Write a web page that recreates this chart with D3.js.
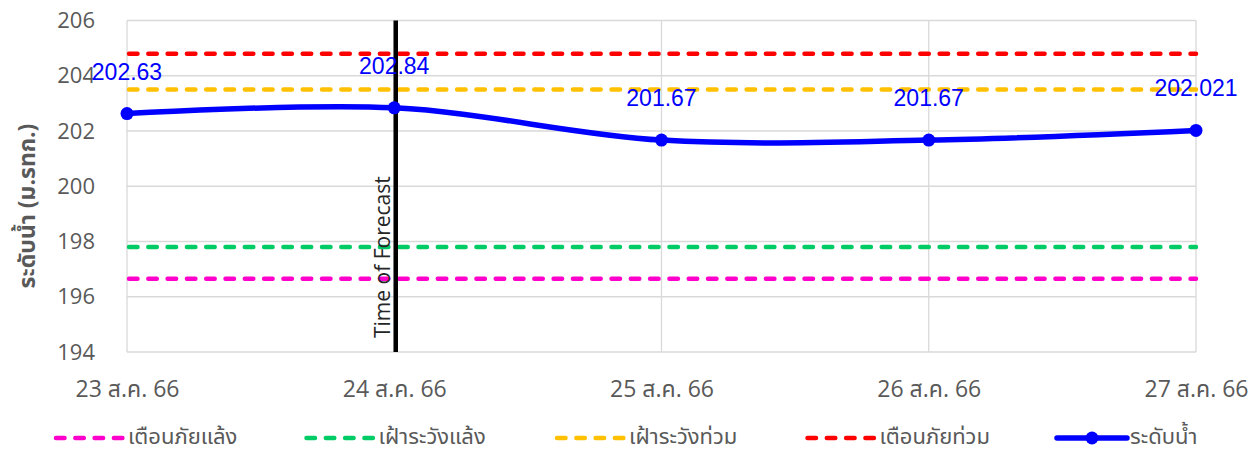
<!DOCTYPE html>
<html>
<head>
<meta charset="utf-8">
<script src="https://cdn.jsdelivr.net/npm/d3@7"></script>
<style>
  body { margin: 0; background: #fff; }
  svg { display: block; }
  text { font-family: "Open Sans", "Noto Sans Thai", "Noto Sans", sans-serif; }
</style>
</head>
<body>
<div id="chart"></div>
<script>
// ---- data ----
const dates = ['23 ส.ค. 66', '24 ส.ค. 66', '25 ส.ค. 66', '26 ส.ค. 66', '27 ส.ค. 66']
const waterLevel = [202.63, 202.84, 201.67, 201.67, 202.021]
const waterLabels = ['202.63', '202.84', '201.67', '201.67', '202.021']
const thresholdNames = ['เตือนภัยแล้ง', 'เฝ้าระวังแล้ง', 'เฝ้าระวังท่วม', 'เตือนภัยท่วม']
const thresholdValues = [196.65, 197.8, 203.5, 204.8]
const thresholdColors = ['#ff00cc', '#00cc66', '#ffc000', '#ff0000']
const yTicks = [194, 196, 198, 200, 202, 204, 206]
const forecastIndex = 1
const forecastLabel = 'Time of Forecast'
const levelName = 'ระดับน้ำ'
const yTitle = 'ระดับน้ำ (ม.รทก.)'

const width = 1258
const height = 450
const grey = '#595959'
const blue = '#0000ff'

const svg = d3.select('#chart').append('svg')
    .attr('width', width)
    .attr('height', height)

const x = d3.scalePoint().domain(dates).range([127, 1196])
const y = d3.scaleLinear().domain([194, 206]).range([352, 20.5])

// grid
svg.append('g')
    .selectAll('line')
    .data(yTicks)
    .enter()
    .append('line')
    .attr('x1', x.range()[0])
    .attr('x2', x.range()[1])
    .attr('y1', d => y(d))
    .attr('y2', d => y(d))
    .attr('stroke', '#d9d9d9')
    .attr('stroke-width', 1.3)

svg.append('g')
    .selectAll('line')
    .data(dates)
    .enter()
    .append('line')
    .attr('x1', d => x(d))
    .attr('x2', d => x(d))
    .attr('y1', y(206))
    .attr('y2', y(194))
    .attr('stroke', '#d9d9d9')
    .attr('stroke-width', 1.3)

// y axis
const yAxis = svg.append('g')
    .attr('transform', `translate(${x.range()[0]},0)`)
    .call(d3.axisLeft(y).tickValues(yTicks).tickSize(0).tickPadding(32))
yAxis.select('.domain').remove()
yAxis.selectAll('text')
    .attr('fill', grey)
    .style('font-size', '22px')

svg.append('text')
    .attr('transform', 'translate(35,206) rotate(-90)')
    .attr('text-anchor', 'middle')
    .attr('fill', grey)
    .style('font-size', '23px')
    .style('font-weight', 'bold')
    .text(yTitle)

// x axis
const xAxis = svg.append('g')
    .attr('transform', `translate(0,${y(194)})`)
    .call(d3.axisBottom(x).tickSize(0).tickPadding(29))
xAxis.select('.domain').remove()
xAxis.selectAll('text')
    .attr('fill', grey)
    .style('font-size', '23px')

// threshold lines
const dash = '8.5 10.8'
svg.append('g')
    .selectAll('line')
    .data(thresholdValues)
    .enter()
    .append('line')
    .attr('x1', x.range()[0] + 2)
    .attr('x2', x.range()[1])
    .attr('y1', d => y(d))
    .attr('y2', d => y(d))
    .attr('stroke', (d, i) => thresholdColors[i])
    .attr('stroke-width', 4.5)
    .attr('stroke-linecap', 'round')
    .attr('stroke-dasharray', dash)

// forecast marker
const fx = x(dates[forecastIndex]) + 1.5
svg.append('line')
    .attr('x1', fx)
    .attr('x2', fx)
    .attr('y1', y(206))
    .attr('y2', y(194))
    .attr('stroke', '#000')
    .attr('stroke-width', 4.5)

svg.append('text')
    .attr('transform', `translate(${fx - 6},${y(194) - 14}) rotate(-90)`)
    .attr('fill', '#262626')
    .style('font-size', '21px')
    .text(forecastLabel)

// water level
const line = d3.line()
    .x((d, i) => x(dates[i]))
    .y(d => y(d))
    .curve(d3.curveCardinal.tension(0))

svg.append('path')
    .datum(waterLevel)
    .attr('d', line)
    .attr('fill', 'none')
    .attr('stroke', blue)
    .attr('stroke-width', 5.5)

svg.append('g')
    .selectAll('circle')
    .data(waterLevel)
    .enter()
    .append('circle')
    .attr('cx', (d, i) => x(dates[i]))
    .attr('cy', d => y(d))
    .attr('r', 6.5)
    .attr('fill', blue)

svg.append('g')
    .selectAll('text')
    .data(waterLevel)
    .enter()
    .append('text')
    .attr('x', (d, i) => x(dates[i]))
    .attr('y', d => y(d) - 34)
    .attr('text-anchor', 'middle')
    .attr('fill', blue)
    .style('font-family', '"Liberation Sans", Arial, sans-serif')
    .style('font-size', '23px')
    .text((d, i) => waterLabels[i])

// legend
const legendNames = thresholdNames.concat([levelName])
const legend = svg.append('g')
    .selectAll('g')
    .data(legendNames)
    .enter()
    .append('g')
    .attr('transform', (d, i) => `translate(${53 + i * 250.5},438)`)

legend.filter((d, i) => i < thresholdNames.length)
    .append('line')
    .attr('x1', 3)
    .attr('x2', 70)
    .attr('stroke', (d, i) => thresholdColors[i])
    .attr('stroke-width', 4.5)
    .attr('stroke-linecap', 'round')
    .attr('stroke-dasharray', dash)

const levelKey = legend.filter((d, i) => i === thresholdNames.length)
levelKey.append('line')
    .attr('x1', 2)
    .attr('x2', 72)
    .attr('stroke', blue)
    .attr('stroke-width', 5.5)
    .attr('stroke-linecap', 'round')
levelKey.append('circle')
    .attr('cx', 37)
    .attr('r', 6.5)
    .attr('fill', blue)

legend.append('text')
    .attr('x', 75)
    .attr('y', 6)
    .attr('fill', grey)
    .style('font-size', '22px')
    .text(d => d)
</script>
</body>
</html>
